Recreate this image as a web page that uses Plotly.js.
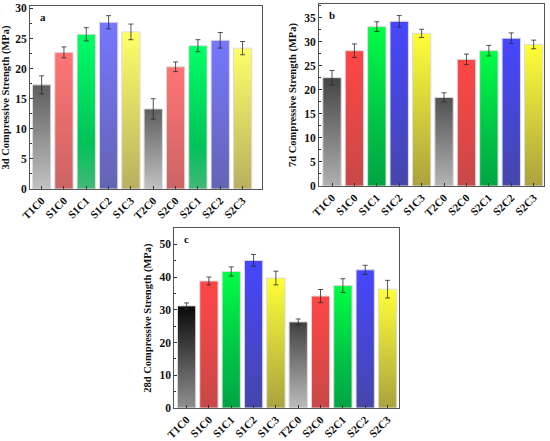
<!DOCTYPE html>
<html>
<head>
<meta charset="utf-8">
<script src="https://cdn.plot.ly/plotly-3.0.1.min.js"></script>
<style>html,body{margin:0;padding:0;background:#fff;}#chart{width:550px;height:441px;}</style>
</head>
<body>
<div id="chart"></div>
<script>
// ---- data ----
const categories = ['T1C0','S1C0','S1C1','S1C2','S1C3','T2C0','S2C0','S2C1','S2C2','S2C3'];
const strength3d = [17.3, 22.7, 25.7, 27.7, 26.1, 13.3, 20.3, 23.8, 24.7, 23.4];
const error3d    = [1.5, 0.9, 1.1, 1.1, 1.3, 1.7, 0.8, 1.0, 1.3, 1.1];
const strength7d = [22.5, 28.1, 33.1, 34.2, 31.7, 18.4, 26.3, 28.1, 30.7, 29.4];
const error7d    = [1.5, 1.4, 1.0, 1.2, 0.85, 0.95, 1.1, 1.1, 1.1, 0.9];
const strength28d = [31.2, 38.8, 41.7, 45.1, 39.7, 26.3, 34.2, 37.4, 42.2, 36.3];
const error28d    = [0.9, 1.2, 1.4, 1.8, 2.1, 0.9, 2.0, 2.1, 1.4, 2.7];
const yTitles = ['3d Compressive Strength (MPa)','7d Compressive Strength (MPa)','28d Compressive Strength (MPa)'];
const panelLabels = ['a','b','c'];

// ---- styles ----
const paletteA = [
  [[0,'#c2c2c2'],[1,'#5e5e5e']],
  [[0,'#cc6464'],[1,'#ff7474']],
  [[0,'#42b878'],[0.3,'#00c258'],[1,'#00ff66']],
  [[0,'#6464b4'],[1,'#7676ff']],
  [[0,'#b8b060'],[1,'#ffff68']],
  [[0,'#c2c2c2'],[1,'#5e5e5e']],
  [[0,'#cc6464'],[1,'#ff7474']],
  [[0,'#42b878'],[0.3,'#00c258'],[1,'#00ff66']],
  [[0,'#6464b4'],[1,'#7676ff']],
  [[0,'#b8b060'],[1,'#ffff68']]
];
const paletteB = [
  [[0,'#b0b0b0'],[1,'#444444']],
  [[0,'#c84848'],[1,'#ff4646']],
  [[0,'#00a444'],[0.45,'#00c846'],[1,'#00ff44']],
  [[0,'#4646aa'],[1,'#4646ff']],
  [[0,'#aaa23e'],[1,'#ffff38']],
  [[0,'#b4b4b4'],[1,'#505050']],
  [[0,'#c84848'],[1,'#ff4646']],
  [[0,'#00a444'],[0.45,'#00c846'],[1,'#00ff44']],
  [[0,'#4646aa'],[1,'#4646ff']],
  [[0,'#aaa23e'],[1,'#ffff38']]
];
const paletteC = paletteB.slice();
paletteC[0] = [[0,'#909090'],[1,'#080808']];
paletteC[5] = [[0,'#bcbcbc'],[1,'#404040']];

const panels = [
  {vals: strength3d, errs: error3d, pal: paletteA, ax: '', range: [0, 30.4], dtick: 5, xr: [-0.52, 9.87],
   xd: [30/550, 262/550], yd: [252/441, 435/441]},
  {vals: strength7d, errs: error7d, pal: paletteB, ax: '2', range: [0, 37.8], dtick: 5, xr: [-0.58, 9.46],
   xd: [319/550, 544/550], yd: [255/441, 437/441]},
  {vals: strength28d, errs: error28d, pal: paletteC, ax: '3', range: [0, 54.9], dtick: 10, xr: [-0.55, 9.5],
   xd: [174.3/550, 398.7/550], yd: [33/441, 212.7/441]}
];

const half = 0.41;
const traces = [];
const layout = {
  width: 550, height: 441,
  margin: {l: 0, r: 0, t: 0, b: 0},
  paper_bgcolor: '#fff', plot_bgcolor: '#fff',
  showlegend: false,
  font: {family: 'Liberation Serif, Times New Roman, serif', color: '#111'},
  annotations: []
};
const idx = categories.map((c, i) => i);

panels.forEach((p, k) => {
  const xa = 'x' + p.ax, ya = 'y' + p.ax;
  p.vals.forEach((v, i) => {
    traces.push({
      type: 'scatter', mode: 'lines', xaxis: xa, yaxis: ya,
      x: [i - half, i - half, i + half, i + half, i - half],
      y: [0, v, v, 0, 0],
      fill: 'toself',
      fillgradient: {type: 'vertical', colorscale: p.pal[i], start: 0, stop: v},
      line: {color: '#dcdcdc', width: 1},
      hoverinfo: 'skip', showlegend: false
    });
  });
  traces.push({
    type: 'scatter', mode: 'markers', xaxis: xa, yaxis: ya,
    x: idx, y: p.vals,
    marker: {size: 1, color: 'rgba(0,0,0,0)'},
    error_y: {type: 'data', array: p.errs, visible: true, color: '#2a2a2a', thickness: 0.8, width: 2.5},
    showlegend: false
  });
  const xkey = 'xaxis' + p.ax, ykey = 'yaxis' + p.ax;
  layout[xkey] = {
    domain: p.xd, anchor: ya, range: p.xr,
    tickmode: 'array', tickvals: idx, ticktext: categories,
    tickangle: -45, ticks: 'inside', ticklen: 3, tickcolor: '#333',
    showline: true, mirror: true, linecolor: '#555', linewidth: 1,
    showgrid: false, zeroline: false,
    tickfont: {family: 'Liberation Serif', size: 11, color: '#111', weight: 'bold'}
  };
  layout[ykey] = {
    domain: p.yd, anchor: xa, range: p.range,
    dtick: p.dtick, tick0: 0, ticks: 'inside', ticklen: 3, tickcolor: '#333',
    minor: {dtick: p.dtick / 2, ticks: 'inside', ticklen: 2, tickcolor: '#333', showgrid: false},
    showline: true, mirror: true, linecolor: '#555', linewidth: 1,
    showgrid: false, zeroline: false,
    tickfont: {family: 'Liberation Serif', size: 11.5, color: '#111', weight: 'bold'},
    title: {text: yTitles[k], standoff: 5,
            font: {family: 'Liberation Serif', size: 10.5, color: '#111', weight: 'bold'}}
  };
  layout.annotations.push({
    text: '<b>' + panelLabels[k] + '</b>', xref: xa + ' domain', yref: ya + ' domain',
    x: 0.035, y: 0.985, xanchor: 'left', yanchor: 'top', showarrow: false,
    font: {family: 'Liberation Serif', size: 11, color: '#111'}
  });
});

Plotly.newPlot('chart', traces, layout, {staticPlot: true, displayModeBar: false});
</script>
</body>
</html>
